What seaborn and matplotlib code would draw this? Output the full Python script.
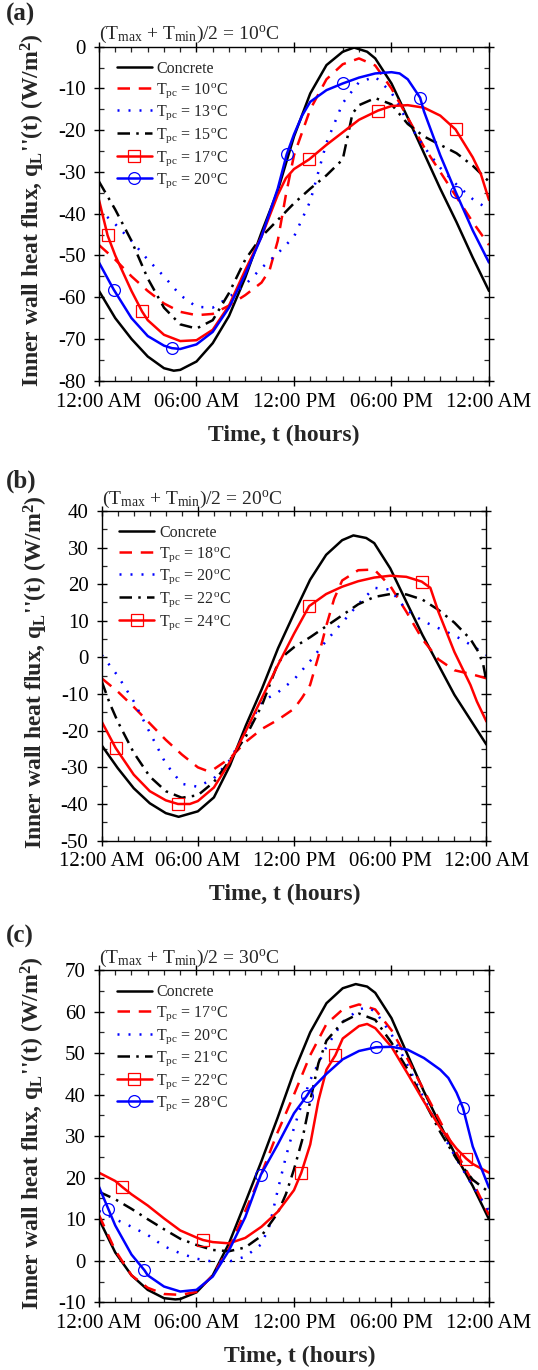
import matplotlib
matplotlib.use("Agg")
import matplotlib.pyplot as plt
from matplotlib.lines import Line2D
from matplotlib.ticker import MultipleLocator
import seaborn as sns

# ---------------- data ----------------
XTICKS = [0, 6, 12, 18, 24]
XTICK_LABELS = ["12:00 AM", "06:00 AM", "12:00 PM", "06:00 PM", "12:00 AM"]
HOURS = list(range(25))

# Panel (a): (Tmax+Tmin)/2 = 10 C
A_TITLE = "(T$_{max}$ + T$_{min}$)/2 = 10$^{o}$C"
A_LABELS = ["Concrete", "T$_{pc}$ = 10$^{o}$C", "T$_{pc}$ = 13$^{o}$C",
            "T$_{pc}$ = 15$^{o}$C", "T$_{pc}$ = 17$^{o}$C", "T$_{pc}$ = 20$^{o}$C"]
A_YTICKS = [0, -10, -20, -30, -40, -50, -60, -70, -80]
A_CONC_H = [0, 1, 2, 3, 4, 4.6, 5, 6, 7, 8, 9, 10, 11, 12, 13, 14, 15, 15.7, 16.5, 17, 18, 19,
            20, 21, 22, 23, 24]
A_CONC = [-58.5, -65, -70, -74.2, -77, -77.6, -77.4, -75.4, -71, -64.5, -55.3, -44.5, -34.5,
          -21.5, -11.2, -4.4, -1.2, -0.2, -1.2, -2.8, -8.8, -17, -25.5, -34, -42, -50.5, -58.5]
A_T10_H = [0, 1, 2, 3, 4, 5, 6, 7, 8, 9, 10, 10.5, 11, 11.5, 12, 12.5, 13, 14, 15, 16, 17, 18,
           19, 20, 21, 22, 23, 24]
A_T10 = [-47.5, -51, -55, -58.5, -61.5, -63.5, -64.3, -64, -62, -59.5, -56.5, -53.5, -46.5,
         -35.5, -26, -20.5, -15, -7.8, -4.2, -2.8, -4.5, -10, -17, -24, -30, -36, -42, -47.5]
A_T13 = [-39, -42.5, -46.5, -51, -55, -59.5, -62.3, -62.5, -60, -57, -53, -49.5, -45.5, -37,
         -23, -13.5, -8.5, -7.2, -11, -18, -24, -29, -33, -36.5, -39]
A_T15_H = [0, 1, 2, 3, 4, 5, 6, 7, 8, 9, 10, 11, 12, 13, 14, 15, 15.3, 15.6, 16, 17, 18, 19,
           20, 21, 22, 23, 24]
A_T15 = [-32.3, -39, -46.5, -55.5, -62.5, -66.5, -67.5, -65.5, -59, -51, -45.5, -41.5, -37.5,
         -34, -30.8, -27, -21.5, -16, -14, -12.3, -13.8, -18.5, -21.5, -23.5, -25.5, -28.5, -32.3]
A_T17_H = [0, 0.53, 1, 2, 2.65, 3, 4, 5, 6, 7, 8, 9, 10, 10.5, 11, 11.5, 12, 12.93, 14, 15, 16,
           17.17, 18, 19, 20, 21, 21.94, 23, 23.5, 24]
A_T17 = [-36.7, -45.2, -50, -58.5, -63.4, -65.5, -69, -70.5, -70.3, -67.8, -62, -53.5, -45.5,
         -40.5, -35.5, -31.5, -29.3, -27, -23.5, -20.5, -17.5, -15.3, -14.2, -14, -14.6, -16.5,
         -19.8, -26.5, -30.5, -36.7]
A_T17_MK = [0.53, 2.65, 12.93, 17.17, 21.94]
A_T20_H = [0, 0.91, 2, 3, 4, 4.49, 5, 6, 7, 8, 9, 10, 11, 11.55, 12, 12.5, 13, 14, 15, 16, 17,
           18, 18.5, 19, 19.76, 20, 21, 21.94, 23, 24]
A_T20 = [-51.7, -58.2, -65, -69.3, -71.6, -72.2, -72.4, -71.3, -68.3, -62.5, -54.5, -45.5, -34,
         -25.8, -21, -16.5, -13.2, -10.4, -8.8, -7.4, -6.4, -6.1, -6.4, -7.8, -12.2, -15.5, -26,
         -34.7, -44, -51.7]
A_T20_MK = [0.91, 4.49, 11.55, 15, 19.76, 21.94]

# Panel (b): (Tmax+Tmin)/2 = 20 C
B_TITLE = "(T$_{max}$ + T$_{min}$)/2 = 20$^{o}$C"
B_LABELS = ["Concrete", "T$_{pc}$ = 18$^{o}$C", "T$_{pc}$ = 20$^{o}$C",
            "T$_{pc}$ = 22$^{o}$C", "T$_{pc}$ = 24$^{o}$C"]
B_YTICKS = [40, 30, 20, 10, 0, -10, -20, -30, -40, -50]
B_CONC_H = [0, 1, 2, 3, 4, 4.8, 6, 7, 8, 9, 10, 11, 12, 13, 14, 15, 15.7, 16.5, 17, 18, 19, 20,
            21, 22, 23, 24]
B_CONC = [-24, -30.2, -35.7, -39.8, -42.5, -43.5, -42, -38.2, -29.5, -18.5, -8.5, 2.5, 12,
          21.2, 28, 32, 33.3, 32.6, 31.2, 24.3, 15.2, 6.2, -2, -10.2, -17, -23.8]
B_T18_H = [0, 1, 2, 3, 4, 5, 6, 6.6, 7, 8, 9, 10, 11, 12, 12.5, 13, 13.5, 14, 14.5, 15, 16, 17,
           18, 19, 20, 21, 22, 23, 24]
B_T18 = [-5.7, -9.3, -13.5, -18, -22.5, -26.5, -30, -31, -30.5, -27.5, -23, -19.5, -17, -14,
         -11, -7.5, 0, 8.5, 16, 21, 23.8, 24, 19.5, 12.5, 5, -0.5, -3.5, -4.5, -5.7]
B_T20 = [0.7, -5, -12, -20.5, -29, -34.5, -35.3, -33, -28, -20, -12, -9.5, -6, -1, 4.5, 9.5,
         14.5, 19, 18.5, 13, 10, 8, 6, 3.5, 0.7]
B_T22_H = [0, 0.5, 1, 2, 3, 4, 5, 6, 7, 8, 9, 10, 11, 11.5, 12, 13, 14, 15, 16, 17, 18, 19, 20,
           21, 22, 23, 23.5, 23.8, 24]
B_T22 = [-6.5, -12.5, -17.5, -26, -32.5, -36.5, -38.3, -37.6, -34, -28, -21.5, -13, -1.5, 1,
         2.8, 5.5, 8.5, 11.5, 14.5, 16.5, 17.3, 17.2, 15.8, 13, 9.5, 5, 1.5, -2, -6.5]
B_T24_H = [0, 0.87, 2, 3, 4, 4.76, 5.5, 6, 7, 8, 9, 10, 11, 12, 12.94, 14, 15, 16, 17, 18, 19,
           19.96, 20.5, 21, 22, 23, 23.4, 24]
B_T24 = [-17.5, -24.7, -32, -36.5, -39, -40, -40, -39.2, -35.5, -28.5, -20, -11, -2, 6.5, 14,
         17.3, 19.3, 20.8, 21.8, 22.3, 22, 20.7, 19, 12.5, 1.5, -7.5, -12, -17.5]
B_T24_MK = [0.87, 4.76, 12.94, 19.96]

# Panel (c): (Tmax+Tmin)/2 = 30 C
C_TITLE = "(T$_{max}$ + T$_{min}$)/2 = 30$^{o}$C"
C_LABELS = ["Concrete", "T$_{pc}$ = 17$^{o}$C", "T$_{pc}$ = 20$^{o}$C",
            "T$_{pc}$ = 21$^{o}$C", "T$_{pc}$ = 22$^{o}$C", "T$_{pc}$ = 28$^{o}$C"]
C_YTICKS = [70, 60, 50, 40, 30, 20, 10, 0, -10]
C_ZERO = 0
C_CONC_H = [0, 1, 2, 3, 4, 4.7, 5, 6, 7, 8, 9, 10, 11, 12, 13, 14, 15, 15.8, 16.5, 17, 18, 19,
            20, 21, 22, 23, 24]
C_CONC = [10, 2, -3.5, -7, -9, -9.3, -9.2, -7.6, -3.5, 4.2, 14, 24, 34.5, 45.5, 55, 62, 65.6,
          66.6, 66, 64.5, 58.4, 49.5, 40.7, 32.7, 25, 18, 10]
C_T17 = [11, 2.5, -3.5, -6.5, -8, -8.2, -7.5, -3.5, 3, 12, 21, 31, 40, 49.5, 57, 60.5, 61.7,
         60.5, 55.5, 48.5, 41, 33.5, 26, 19, 11]
C_T20_H = [0, 1, 2, 3, 4, 5, 6, 7, 8, 9, 10, 10.5, 11, 11.5, 12, 12.5, 13, 14, 15, 16, 16.5, 17,
           18, 19, 20, 21, 22, 23, 24]
C_T20 = [12, 10, 8.2, 6.2, 3.5, 1.8, 0.5, -0.2, -0.2, 1, 4, 8.5, 17, 25, 32, 38, 43.5, 51.5,
         57.5, 60.5, 61, 60, 54.5, 47, 39, 31.5, 24.5, 18, 12]
C_T21_H = [0, 1, 2, 3, 4, 5, 6, 7, 8, 9, 10, 11, 11.5, 12, 12.5, 13, 13.5, 14, 15, 16, 17, 18,
           19, 20, 21, 22, 23, 24]
C_T21 = [16.6, 14.8, 12.5, 10, 7.6, 5.3, 3.8, 2.6, 2.3, 3.2, 6, 11.5, 16, 22, 29, 38.5, 47.5,
         53, 57.5, 59.5, 58, 52.5, 46, 38.5, 31, 24.5, 19.5, 16.5]
C_T22_H = [0, 1, 1.42, 2, 3, 4, 5, 6, 6.4, 7, 8, 9, 10, 11, 12, 12.45, 13, 13.5, 14, 14.55, 15,
           16, 16.5, 17, 18, 19, 20, 21, 22, 22.6, 23, 24]
C_T22 = [21.2, 19.2, 17.8, 16, 13.3, 10.2, 7.3, 5.6, 5, 4.5, 4.2, 5.5, 8.2, 11.8, 17, 21.2, 28,
         38.5, 46, 49.5, 53.5, 56.5, 57, 56, 51.5, 45, 38.3, 32, 27, 24.6, 23.3, 21.2]
C_T22_MK = [1.42, 6.4, 12.45, 14.55, 22.6]
C_T28_H = [0, 0.57, 1, 2, 2.8, 3, 4, 5, 6, 7, 8, 9, 9.96, 11, 12, 12.77, 13, 14, 15, 16, 17.05,
           18, 19, 20, 21, 21.5, 22, 22.4, 23, 24]
C_T28 = [17.8, 12.5, 8.5, 1.5, -2.3, -3.5, -6.2, -7.4, -7, -3.8, 2.5, 10.5, 20.7, 28, 35.5,
         39.6, 41, 45, 48.5, 50.5, 51.4, 51.5, 50.8, 48.8, 46, 44, 40.5, 36.8, 27.5, 17.6]
C_T28_MK = [0.57, 2.8, 9.96, 12.77, 17.05, 22.4]

# ---------------- style ----------------
sns.set_style("ticks")
plt.rcParams["font.family"] = ["Liberation Serif", "DejaVu Serif"]
plt.rcParams["mathtext.fontset"] = "custom"
plt.rcParams["mathtext.rm"] = "Liberation Serif"
plt.rcParams["mathtext.it"] = "Liberation Serif:italic"
plt.rcParams["mathtext.bf"] = "Liberation Serif:bold"
plt.rcParams["mathtext.default"] = "regular"
plt.rcParams["axes.unicode_minus"] = False

LW = 1.8
STY = {
    "solid_k": dict(color="black", linestyle="-"),
    "dash_r": dict(color="red", linestyle=(0, (5, 3.5))),
    "dot_b": dict(color="blue", linestyle=(0, (0.8, 3.6))),
    "dashdot_k": dict(color="black", linestyle=(0, (5, 2.5, 1, 2.5))),
    "sq_r": dict(color="red", linestyle="-", marker="s"),
    "ci_b": dict(color="blue", linestyle="-", marker="o"),
}


def marker_kw(st):
    return dict(marker=st["marker"], markersize=8.5 if st["marker"] == "o" else 8,
                markerfacecolor="none", markeredgecolor=st["color"], markeredgewidth=0.9)


def draw_panel(ax, series, labels, yticks, title, xlab_x):
    handles = []
    for (h, v, key, mk) in series:
        st = STY[key]
        kw = dict(color=st["color"], linestyle=st["linestyle"], linewidth=LW)
        hk = dict(kw)
        if "marker" in st:
            kw.update(marker_kw(st))
            kw["markevery"] = [h.index(m) for m in mk]
            hk.update(marker_kw(st))
        sns.lineplot(x=h, y=v, ax=ax, legend=False, errorbar=None, **kw)
        handles.append(Line2D([], [], **hk))

    ax.set_xlim(XTICKS[0], XTICKS[-1])
    ax.set_ylim(min(yticks), max(yticks))
    ax.set_xticks(XTICKS)
    ax.set_xticklabels(XTICK_LABELS)
    ax.set_yticks(yticks)
    ax.xaxis.set_minor_locator(MultipleLocator(1))
    ax.yaxis.set_minor_locator(MultipleLocator(5))
    ax.tick_params(which="major", direction="inout", length=7, width=1.0,
                   top=True, right=True, labelsize=15, colors="black")
    ax.tick_params(axis="x", which="major", pad=5)
    ax.tick_params(axis="y", which="major", pad=6)
    ax.tick_params(which="minor", direction="in", length=3.5, width=0.9,
                   top=True, right=True)
    for sp in ax.spines.values():
        sp.set_visible(True)
        sp.set_linewidth(1.0)
        sp.set_color("black")

    ax.set_xlabel("Time, t (hours)", fontsize=17, fontweight="bold", va="center")
    ax.set_ylabel("Inner wall heat flux, q$_{L}$''(t) (W/m$^{2}$)", fontsize=17,
                  fontweight="bold", va="center")
    ax.xaxis.set_label_coords(xlab_x, -0.163)
    ax.yaxis.set_label_coords(-0.17, 0.51)

    ax.text(0.0, 1.022, title, transform=ax.transAxes, ha="left", va="baseline",
            fontsize=14)
    ax.legend(handles, labels, loc="upper left", bbox_to_anchor=(0.045, 0.957),
              frameon=False, fontsize=11.5, handlelength=2.2, handletextpad=0.3,
              labelspacing=0.24, borderaxespad=0, borderpad=0)
    return ax


fig = plt.figure(figsize=(5.38, 13.7), dpi=100)
ax_a = fig.add_axes([0.1840, 0.7221, 0.7249, 0.2438])
ax_b = fig.add_axes([0.1890, 0.3864, 0.7152, 0.2407])
ax_c = fig.add_axes([0.1840, 0.0494, 0.7249, 0.2426])

draw_panel(ax_a, [
    (A_CONC_H, A_CONC, "solid_k", None),
    (A_T10_H, A_T10, "dash_r", None),
    (HOURS, A_T13, "dot_b", None),
    (A_T15_H, A_T15, "dashdot_k", None),
    (A_T17_H, A_T17, "sq_r", A_T17_MK),
    (A_T20_H, A_T20, "ci_b", A_T20_MK),
], A_LABELS, A_YTICKS, A_TITLE, 0.475)

draw_panel(ax_b, [
    (B_CONC_H, B_CONC, "solid_k", None),
    (B_T18_H, B_T18, "dash_r", None),
    (HOURS, B_T20, "dot_b", None),
    (B_T22_H, B_T22, "dashdot_k", None),
    (B_T24_H, B_T24, "sq_r", B_T24_MK),
], B_LABELS, B_YTICKS, B_TITLE, 0.477)

ax_c.axhline(C_ZERO, color="black", linewidth=0.8, linestyle=(0, (5, 4)), zorder=1)
draw_panel(ax_c, [
    (C_CONC_H, C_CONC, "solid_k", None),
    (HOURS, C_T17, "dash_r", None),
    (C_T20_H, C_T20, "dot_b", None),
    (C_T21_H, C_T21, "dashdot_k", None),
    (C_T22_H, C_T22, "sq_r", C_T22_MK),
    (C_T28_H, C_T28, "ci_b", C_T28_MK),
], C_LABELS, C_YTICKS, C_TITLE, 0.515)

for letter, ypix in [("(a)", 14), ("(b)", 481), ("(c)", 936)]:
    fig.text(6 / 538, 1 - ypix / 1370, letter, ha="left", va="center",
             fontsize=18, fontweight="bold")

fig.savefig("out.png", dpi=100)
